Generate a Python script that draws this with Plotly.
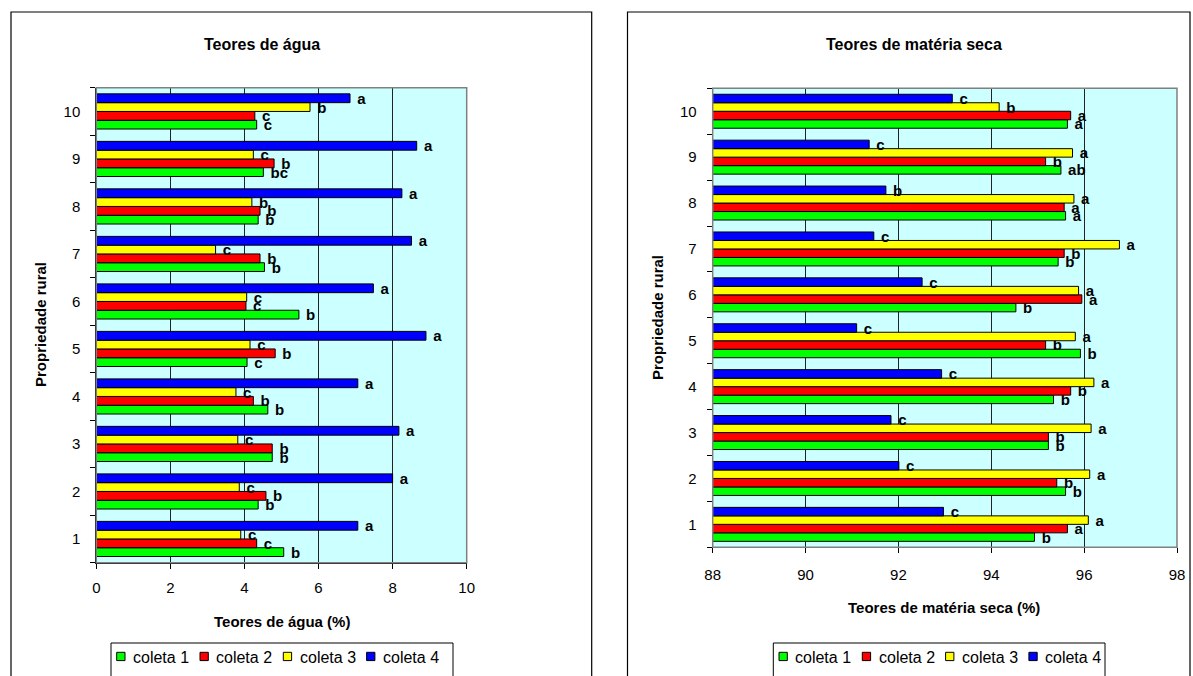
import plotly.graph_objects as go

# Propriedades rurais (categorias do eixo vertical)
propriedades = [1, 2, 3, 4, 5, 6, 7, 8, 9, 10]
coletas = ["coleta 1", "coleta 2", "coleta 3", "coleta 4"]
cores = ["#00FF00", "#FF0000", "#FFFF00", "#0000FF"]

# Teores de água (%) por coleta
agua_c1 = [5.06, 4.37, 4.75, 4.63, 4.07, 5.47, 4.54, 4.37, 4.51, 4.33]
agua_c2 = [4.33, 4.58, 4.75, 4.24, 4.83, 4.04, 4.42, 4.42, 4.80, 4.28]
agua_c3 = [3.90, 3.86, 3.82, 3.77, 4.15, 4.06, 3.22, 4.20, 4.24, 5.77]
agua_c4 = [7.06, 8.00, 8.17, 7.06, 8.90, 7.48, 8.51, 8.25, 8.65, 6.85]

# Letras de significância - teores de água
agua_l1 = ["b", "b", "b", "b", "c", "b", "b", "b", "bc", "c"]
agua_l2 = ["c", "b", "b", "b", "b", "c", "b", "b", "b", "c"]
agua_l3 = ["c", "c", "c", "c", "c", "c", "c", "b", "c", "b"]
agua_l4 = ["a", "a", "a", "a", "a", "a", "a", "a", "a", "a"]

# Teores de matéria seca (%) por coleta
ms_c1 = [94.93, 95.60, 95.23, 95.34, 95.92, 94.53, 95.44, 95.60, 95.50, 95.64]
ms_c2 = [95.64, 95.41, 95.23, 95.71, 95.17, 95.95, 95.57, 95.57, 95.17, 95.71]
ms_c3 = [96.09, 96.12, 96.15, 96.21, 95.81, 95.88, 96.76, 95.78, 95.75, 94.17]
ms_c4 = [92.97, 92.01, 91.84, 92.93, 91.10, 92.51, 91.47, 91.73, 91.37, 93.16]

# Letras de significância - matéria seca
ms_l1 = ["b", "b", "b", "b", "b", "b", "b", "a", "ab", "a"]
ms_l2 = ["a", "b", "b", "b", "b", "a", "b", "a", "b", "a"]
ms_l3 = ["a", "a", "a", "a", "a", "a", "a", "a", "a", "b"]
ms_l4 = ["c", "c", "c", "c", "c", "c", "c", "b", "c", "c"]

W, H = 1193, 676
FONT = "Liberation Sans, Arial, sans-serif"


def px_x(x):
    return x / W


def px_y(y):
    return 1 - y / H


fig = go.Figure()

agua = [agua_c1, agua_c2, agua_c3, agua_c4]
agua_l = [agua_l1, agua_l2, agua_l3, agua_l4]
ms = [ms_c1, ms_c2, ms_c3, ms_c4]
ms_l = [ms_l1, ms_l2, ms_l3, ms_l4]

for i in range(4):
    fig.add_trace(go.Bar(
        name=coletas[i], y=propriedades, x=agua[i], orientation="h",
        marker=dict(color=cores[i], line=dict(color="black", width=1)),
        text=["\u00a0" + t for t in agua_l[i]], textposition="outside",
        textfont=dict(family=FONT, size=15, color="black", weight="bold"),
        constraintext="none", cliponaxis=False, showlegend=False,
        xaxis="x", yaxis="y",
    ))
for i in range(4):
    fig.add_trace(go.Bar(
        name=coletas[i], y=propriedades, x=ms[i], orientation="h",
        marker=dict(color=cores[i], line=dict(color="black", width=1)),
        text=["\u00a0" + t for t in ms_l[i]], textposition="outside",
        textfont=dict(family=FONT, size=15, color="black", weight="bold"),
        constraintext="none", cliponaxis=False, showlegend=False,
        xaxis="x2", yaxis="y2",
    ))

axis_common = dict(
    showline=True, linecolor="black", linewidth=1,
    ticks="outside", ticklen=5, tickcolor="black",
    tickfont=dict(family=FONT, size=15, color="black"),
    zeroline=False, automargin=False,
)
yaxis_common = dict(
    showline=True, linecolor="black", linewidth=1,
    range=[0.5, 10.5], tickmode="array", tickvals=propriedades,
    ticks="", showgrid=False, ticklabelstandoff=12,
    minor=dict(tickmode="array", tickvals=[k + 0.5 for k in range(0, 11)],
               ticks="outside", ticklen=5, tickcolor="black", showgrid=False),
    tickfont=dict(family=FONT, size=15, color="black"),
    zeroline=False, automargin=False,
)

fig.update_layout(
    width=W, height=H,
    margin=dict(l=0, r=0, t=0, b=0),
    paper_bgcolor="white",
    plot_bgcolor="#CCFFFF",
    template="none",
    barmode="group", bargap=0.26, bargroupgap=0,
    font=dict(family=FONT, size=15, color="black"),
    xaxis=dict(domain=[px_x(96.3), px_x(466.7)], range=[0, 10], dtick=2,
               showgrid=True, gridcolor="#222222", gridwidth=1,
               ticklabelstandoff=6, anchor="y", **axis_common),
    yaxis=dict(domain=[px_y(562.7), px_y(87.7)], anchor="x", **yaxis_common),
    xaxis2=dict(domain=[px_x(712.7), px_x(1177)], range=[88, 98], dtick=2,
                showgrid=True, gridcolor="#222222", gridwidth=1,
                ticklabelstandoff=9, anchor="y2", **axis_common),
    yaxis2=dict(domain=[px_y(547.3), px_y(88.3)], anchor="x2", **yaxis_common),
    showlegend=False,
)

# Molduras dos dois gráficos e bordas das áreas de plotagem
shapes = [
    dict(type="rect", xref="paper", yref="paper",
         x0=px_x(11), x1=px_x(591.7), y0=px_y(12), y1=px_y(690),
         line=dict(color="black", width=1.2), layer="below"),
    dict(type="rect", xref="paper", yref="paper",
         x0=px_x(627.5), x1=px_x(1190), y0=px_y(12), y1=px_y(690),
         line=dict(color="black", width=1.2), layer="below"),
    dict(type="rect", xref="x domain", yref="y domain", x0=0, x1=1, y0=0, y1=1,
         line=dict(color="#808080", width=1.5), layer="above"),
    dict(type="rect", xref="x2 domain", yref="y2 domain", x0=0, x1=1, y0=0, y1=1,
         line=dict(color="#808080", width=1.5), layer="above"),
]

bold = dict(family=FONT, size=15, color="black", weight="bold")
annotations = [
    dict(text="Teores de água", x=px_x(262), y=px_y(45), font=dict(family=FONT, size=16, color="black", weight="bold")),
    dict(text="Teores de matéria seca", x=px_x(914), y=px_y(45), font=dict(family=FONT, size=16, color="black", weight="bold")),
    dict(text="Teores de água (%)", x=px_x(282), y=px_y(621), font=bold),
    dict(text="Teores de matéria seca (%)", x=px_x(944), y=px_y(607), font=bold),
    dict(text="Propriedade rural", x=px_x(40), y=px_y(325), textangle=-90, font=bold),
    dict(text="Propriedade rural", x=px_x(657), y=px_y(317), textangle=-90, font=bold),
]
for a in annotations:
    a.update(xanchor="center", yanchor="middle")

# Legendas horizontais em caixa, uma sob cada gráfico
LEG_TOP, LEG_STEP, SW = 643, 83.3, 8.3
for left, right in [(111, 453), (773.3, 1105)]:
    shapes.append(dict(type="rect", xref="paper", yref="paper",
                       x0=px_x(left), x1=px_x(right), y0=px_y(LEG_TOP), y1=px_y(690),
                       fillcolor="white", line=dict(color="black", width=1), layer="below"))
    for k, (nome, cor) in enumerate(zip(coletas, cores)):
        sx = left + 5.7 + LEG_STEP * k
        shapes.append(dict(type="rect", xref="paper", yref="paper",
                           x0=px_x(sx), x1=px_x(sx + SW),
                           y0=px_y(652.3 + SW), y1=px_y(652.3),
                           fillcolor=cor, line=dict(color="black", width=1), layer="above"))
        annotations.append(dict(text=nome, x=px_x(sx + SW + 6), y=px_y(657),
                                xanchor="left", yanchor="middle",
                                font=dict(family=FONT, size=16, color="black")))

for a in annotations:
    a.update(xref="paper", yref="paper", showarrow=False)
fig.update_layout(shapes=shapes, annotations=annotations)

fig.write_html("out.html")
